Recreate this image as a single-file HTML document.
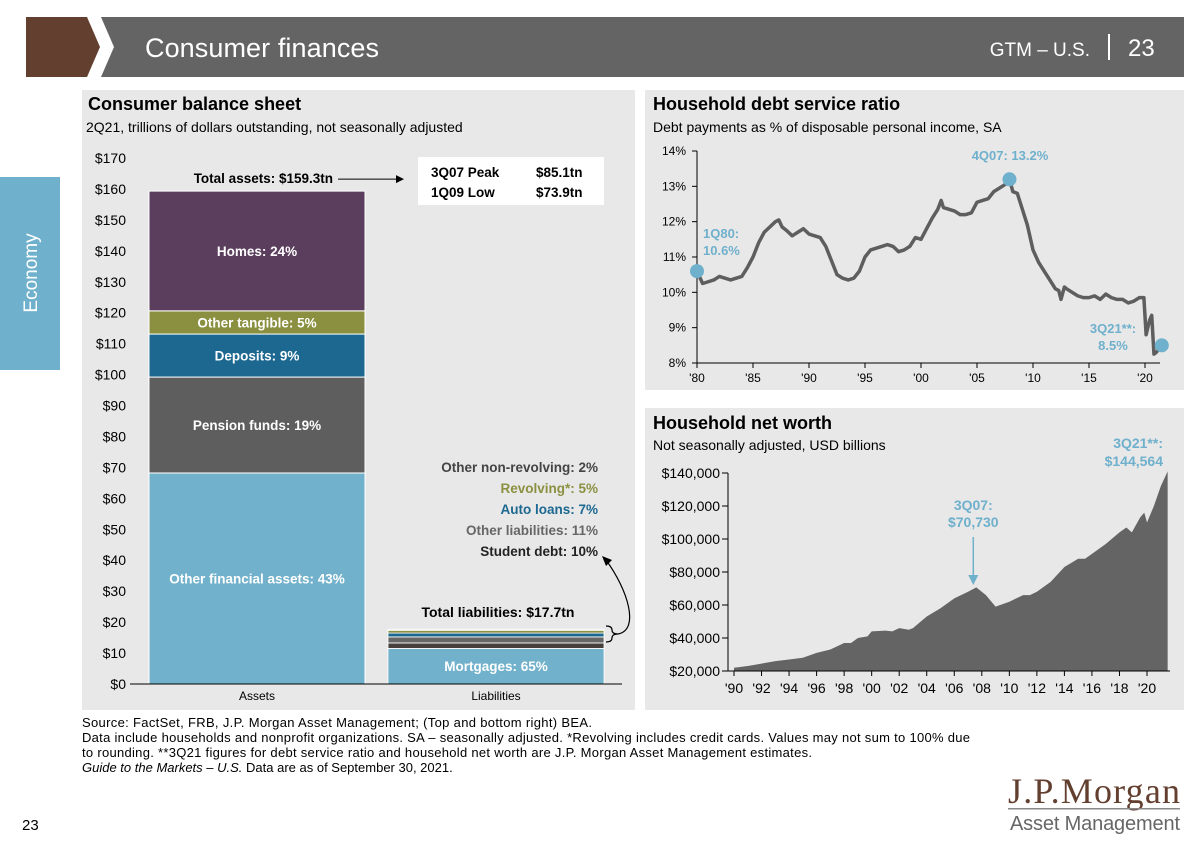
<!DOCTYPE html>
<html><head><meta charset="utf-8"><style>
body{margin:0;width:1201px;height:842px;background:#fff;position:relative;overflow:hidden;font-family:"Liberation Sans",Arial,sans-serif;}
.abs{position:absolute;}
svg text{font-family:"Liberation Sans",Arial,sans-serif;}
</style></head><body>
<svg class="abs" style="left:0;top:0" width="1201" height="842">
  <g>
    <polygon points="26,17 87,17 100,47 87,77 26,77" fill="#633f2f"/>
    <polygon points="101,17 1184,17 1184,77 101,77 114,47" fill="#646464"/>
    <text x="145" y="57" font-size="27" fill="#fff" textLength="234">Consumer finances</text>
    <text x="1090" y="56" font-size="19" fill="#fff" text-anchor="end">GTM – U.S.</text>
    <rect x="1108" y="34" width="2" height="26" fill="#fff"/>
    <text x="1128" y="56" font-size="24" fill="#fff">23</text>
  </g>
  <g>
    <rect x="0" y="177" width="60" height="193" fill="#6fb0cc"/>
    <text x="37" y="273" font-size="19" fill="#fff" text-anchor="middle" transform="rotate(-90 37 273)">Economy</text>
  </g>
  <rect x="82" y="90" width="553" height="620" fill="#e8e8e8"/>
  <rect x="645" y="90" width="539" height="300" fill="#e8e8e8"/>
  <rect x="645" y="408" width="539" height="302" fill="#e8e8e8"/>
  <text x="88" y="110" font-size="18" font-weight="bold" fill="#000">Consumer balance sheet</text>
  <text x="86" y="132" font-size="14" fill="#000">2Q21, trillions of dollars outstanding, not seasonally adjusted</text>
  <text x="653" y="110" font-size="18" font-weight="bold" fill="#000">Household debt service ratio</text>
  <text x="653" y="132" font-size="14" fill="#000">Debt payments as % of disposable personal income, SA</text>
  <text x="653" y="429" font-size="18" font-weight="bold" fill="#000">Household net worth</text>
  <text x="653" y="450" font-size="14" fill="#000">Not seasonally adjusted, USD billions</text>
  <g id="bal"></g>
  <g id="dsr"></g>
  <g id="nw"></g>
  <g font-size="13" fill="#000">
    <text x="82" y="727" textLength="510">Source: FactSet, FRB, J.P. Morgan Asset Management; (Top and bottom right) BEA.</text>
    <text x="82" y="742" textLength="888">Data include households and nonprofit organizations. SA – seasonally adjusted. *Revolving includes credit cards. Values may not sum to 100% due</text>
    <text x="82" y="757" textLength="730">to rounding. **3Q21 figures for debt service ratio and household net worth are J.P. Morgan Asset Management estimates.</text>
    <text x="82" y="772"><tspan font-style="italic">Guide to the Markets – U.S.</tspan> Data are as of September 30, 2021.</text>
  </g>
  <text x="22" y="830" font-size="15" fill="#000">23</text>
  <g>
    <text x="1180" y="803" font-size="36" fill="#633f2f" text-anchor="end" style="font-family:'Liberation Serif',serif" textLength="172">J.P.Morgan</text>
    <rect x="1008" y="808" width="172" height="1.5" fill="#888"/>
    <text x="1180" y="830" font-size="20" fill="#666" text-anchor="end" textLength="170">Asset Management</text>
  </g>
</svg>
<script>
// ---- Balance sheet data ----
const assetCats=["Other financial assets","Pension funds","Deposits","Other tangible","Homes"];
const assetVals=[68.2,31.0,13.9,7.5,38.7];
const assetLabels=["Other financial assets: 43%","Pension funds: 19%","Deposits: 9%","Other tangible:  5%","Homes: 24%"];
const liabCats=["Mortgages","Student debt","Other liabilities","Auto loans","Revolving","Other non-revolving"];
const liabVals=[11.5,1.77,1.95,1.24,0.885,0.35];
const balTicks=[0,10,20,30,40,50,60,70,80,90,100,110,120,130,140,150,160,170];
// ---- Debt service data ----
const dsrYears=[1980,1980.5,1981,1981.5,1982,1982.5,1983,1983.5,1984,1984.5,1985,1985.5,1986,1986.5,1987,1987.3,1987.6,1988,1988.5,1989,1989.5,1990,1990.5,1991,1991.5,1992,1992.5,1993,1993.5,1994,1994.5,1995,1995.5,1996,1996.5,1997,1997.5,1998,1998.5,1999,1999.5,2000,2000.5,2001,2001.5,2001.8,2002,2002.5,2003,2003.5,2004,2004.5,2005,2005.5,2006,2006.5,2007,2007.5,2007.9,2008.2,2008.6,2009,2009.5,2010,2010.5,2011,2011.5,2012,2012.3,2012.5,2012.8,2013,2013.5,2014,2014.5,2015,2015.5,2016,2016.5,2017,2017.5,2018,2018.5,2019,2019.5,2019.9,2020.1,2020.4,2020.6,2020.8,2021,2021.5];
const dsrVals=[10.6,10.25,10.3,10.35,10.45,10.4,10.35,10.4,10.45,10.7,11.0,11.4,11.7,11.85,12.0,12.05,11.85,11.75,11.6,11.7,11.8,11.65,11.6,11.55,11.3,10.9,10.5,10.4,10.35,10.4,10.6,11.0,11.2,11.25,11.3,11.35,11.3,11.15,11.2,11.3,11.55,11.5,11.8,12.1,12.35,12.6,12.4,12.35,12.3,12.2,12.2,12.25,12.55,12.6,12.65,12.85,12.95,13.05,13.2,12.85,12.8,12.4,11.9,11.2,10.85,10.6,10.35,10.1,10.05,9.8,10.15,10.1,10.0,9.9,9.85,9.85,9.9,9.8,9.95,9.85,9.8,9.8,9.7,9.75,9.85,9.85,8.8,9.2,9.35,8.25,8.3,8.5];
const dsrTicks=[8,9,10,11,12,13,14];
const dsrXTicks=[1980,1985,1990,1995,2000,2005,2010,2015,2020];
// ---- Net worth data ----
const nwYears=[1990,1991,1992,1993,1994,1995,1996,1997,1998,1998.5,1999,1999.7,2000,2001,2001.5,2002,2002.7,2003,2004,2005,2006,2007,2007.6,2008.3,2009,2010,2011,2011.5,2012,2013,2014,2015,2015.5,2016,2017,2018,2018.5,2018.9,2019.5,2019.8,2020,2020.5,2021,2021.5];
const nwVals=[22,23,24.5,26,27,28,31,33,37,37,40,41,44,44.5,44,46,45,46,53,58,64,68,70.7,66,59,62,66,66,68,74,83,88,88,91,97,104,107,104,113,116,110,120,132,141];
const nwTicks=[20,40,60,80,100,120,140];
const nwXTicks=[1990,1992,1994,1996,1998,2000,2002,2004,2006,2008,2010,2012,2014,2016,2018,2020];

const NS="http://www.w3.org/2000/svg";
function mk(parent,tag,attrs,text){const e=document.createElementNS(NS,tag);for(const k in attrs)e.setAttribute(k,attrs[k]);if(text!==undefined)e.textContent=text;parent.appendChild(e);return e;}

// Balance sheet
(function(){
const g=document.getElementById('bal');
const y=v=>684-v*(526/170);
balTicks.forEach(t=>{const e=mk(g,'text',{x:126,y:y(t)+5,'font-size':14,'text-anchor':'end',fill:'#000'},'$'+t);

});
const aCol=["#72b1cb","#5e5e5e","#1c6890","#8b9040","#5b3e5e"];
let cum=0;
assetVals.forEach((v,i)=>{const r=mk(g,'rect',{x:149,y:y(cum+v),width:216,height:y(cum)-y(cum+v),fill:aCol[i],stroke:'#fff','stroke-width':1});


const mid=(y(cum)+y(cum+v))/2;
const t=mk(g,'text',{x:257,y:mid+5,'font-size':13.5,'font-weight':'bold',fill:'#fff','text-anchor':'middle'},assetLabels[i]);


cum+=v;});
const total=cum;
const lCol=["#72b1cb","#463f3c","#666666","#1c6890","#8b9040","#dddddd"];
let lc=0;
liabVals.forEach((v,i)=>{const r=mk(g,'rect',{x:388,y:y(lc+v),width:216,height:y(lc)-y(lc+v),fill:lCol[i],stroke:'#fff','stroke-width':0.8});


lc+=v;});
mk(g,'text',{x:496,y:y(liabVals[0]/2)+5,'font-size':13.5,'font-weight':'bold',fill:'#fff','text-anchor':'middle'},'Mortgages: 65%');
mk(g,'line',{x1:130,x2:622,y1:684,y2:684,stroke:'#000'});
mk(g,'text',{x:257,y:700,'font-size':12,'text-anchor':'middle'},'Assets');
mk(g,'text',{x:496,y:700,'font-size':12,'text-anchor':'middle'},'Liabilities');
mk(g,'text',{x:333,y:y(total)-8,'font-size':13.5,'font-weight':'bold','text-anchor':'end'},'Total assets: $'+total.toFixed(1)+'tn');
mk(g,'line',{x1:338,x2:398,y1:y(total)-12,y2:y(total)-12,stroke:'#000'});
mk(g,'polygon',{points:`404,${y(total)-12} 396,${y(total)-16} 396,${y(total)-8}`,fill:'#000'});
mk(g,'text',{x:498,y:y(lc)-12,'font-size':14,'font-weight':'bold','text-anchor':'middle'},'Total liabilities:  $'+lc.toFixed(1)+'tn');
mk(g,'rect',{x:418,y:157,width:186,height:48,fill:'#fff'});
mk(g,'text',{x:431,y:177,'font-size':13.5,'font-weight':'bold'},'3Q07 Peak');
mk(g,'text',{x:536,y:177,'font-size':13.5,'font-weight':'bold'},'$85.1tn');
mk(g,'text',{x:431,y:197,'font-size':13.5,'font-weight':'bold'},'1Q09 Low');
mk(g,'text',{x:536,y:197,'font-size':13.5,'font-weight':'bold'},'$73.9tn');
const leg=[["Other non-revolving: 2%","#444"],["Revolving*: 5%","#8b9040"],["Auto loans: 7%","#1c6890"],["Other liabilities: 11%","#666"],["Student debt: 10%","#222"]];
leg.forEach((l,i)=>{const t=mk(g,'text',{x:598,y:472+i*21,'font-size':13.5,'font-weight':'bold','text-anchor':'end',fill:l[1]},l[0]);

});
mk(g,'path',{d:`M606,626 q6,0 6,4 q0,4 6,4 q-6,0 -6,4 q0,4 -6,4 M618,634 C640,630 628,590 606,560`,fill:'none',stroke:'#000','stroke-width':1.2});
mk(g,'polygon',{points:'602,556 612,560 606,566',fill:'#000'});
})();

// Debt service
(function(){
const g=document.getElementById('dsr');
const x=v=>697+(v-1980)*(448/40), y=v=>363-(v-8)*(212/6);
mk(g,'line',{x1:697,x2:697,y1:151,y2:363,stroke:'#000'});
mk(g,'line',{x1:697,x2:1160,y1:363,y2:363,stroke:'#000'});
dsrTicks.forEach(t=>{mk(g,'line',{x1:692,x2:697,y1:y(t),y2:y(t),stroke:'#000'});
const e=mk(g,'text',{x:686,y:y(t)+4,'font-size':12,'text-anchor':'end'},t+'%');

});
dsrXTicks.forEach(t=>{mk(g,'line',{x1:x(t),x2:x(t),y1:363,y2:368,stroke:'#000'});
const e=mk(g,'text',{x:x(t),y:382,'font-size':12,'text-anchor':'middle'},"'"+String(t).slice(2));

});
const p=mk(g,'polyline',{points:dsrYears.map((yr,i)=>x(yr)+','+y(dsrVals[i])).join(' '),fill:'none',stroke:'#5e5e5e','stroke-width':3.5,'stroke-linejoin':'round'});


const n=dsrYears.length-1;let pk=0;dsrVals.forEach((v,i)=>{if(v>dsrVals[pk])pk=i;});
[[0,"1Q80:","10.6%",703,238,'start'],[pk,"4Q07: "+dsrVals[pk].toFixed(1)+"%",null,1010,160,'middle'],[n,"3Q21**:",dsrVals[n].toFixed(1)+"%",1113,333,'middle']].forEach(a=>{
const c=mk(g,'circle',{cx:x(dsrYears[a[0]]),cy:y(dsrVals[a[0]]),r:7,fill:'#6fb0cc'});


mk(g,'text',{x:a[3],y:a[4],'font-size':13,'font-weight':'bold',fill:'#6fb0cc','text-anchor':a[5]},a[1]);
if(a[2])mk(g,'text',{x:a[3],y:a[4]+17,'font-size':13,'font-weight':'bold',fill:'#6fb0cc','text-anchor':a[5]},a[2]);});
})();

// Net worth
(function(){
const g=document.getElementById('nw');
const x=v=>734+(v-1990)*(413/30), y=v=>671-(v-20)*(198/120);
nwTicks.forEach(t=>{mk(g,'line',{x1:722,x2:728,y1:y(t),y2:y(t),stroke:'#000'});
const e=mk(g,'text',{x:720,y:y(t)+5,'font-size':14,'text-anchor':'end'},'$'+t+',000');

});
const pts=nwYears.map((yr,i)=>x(yr)+','+y(nwVals[i])).join(' ');
const a=mk(g,'polygon',{points:`${x(nwYears[0])},${y(20)} ${pts} ${x(nwYears[nwYears.length-1])},${y(20)}`,fill:'#646464'});


mk(g,'line',{x1:728,x2:728,y1:473,y2:671,stroke:'#000'});
mk(g,'line',{x1:728,x2:1170,y1:671,y2:671,stroke:'#000'});
nwXTicks.forEach(t=>{mk(g,'line',{x1:x(t),x2:x(t),y1:671,y2:676,stroke:'#000'});
const e=mk(g,'text',{x:x(t),y:693,'font-size':14,'text-anchor':'middle'},"'"+String(t).slice(2));

});
let pk=0;nwVals.forEach((v,i)=>{if(nwYears[i]<2009&&v>nwVals[pk])pk=i;});
const px=x(nwYears[pk])-3;
mk(g,'line',{x1:px,x2:px,y1:537,y2:578,stroke:'#6fb0cc','stroke-width':1.5});
mk(g,'polygon',{points:`${px},585 ${px-5},575 ${px+5},575`,fill:'#6fb0cc'});
mk(g,'text',{x:px,y:510,'font-size':14,'font-weight':'bold',fill:'#6fb0cc','text-anchor':'middle'},'3Q07:');
mk(g,'text',{x:px,y:527,'font-size':14,'font-weight':'bold',fill:'#6fb0cc','text-anchor':'middle'},'$70,730');
mk(g,'text',{x:1163,y:448,'font-size':14,'font-weight':'bold',fill:'#6fb0cc','text-anchor':'end'},'3Q21**:');
mk(g,'text',{x:1163,y:466,'font-size':14,'font-weight':'bold',fill:'#6fb0cc','text-anchor':'end'},'$144,564');
})();
</script>
</body></html>
